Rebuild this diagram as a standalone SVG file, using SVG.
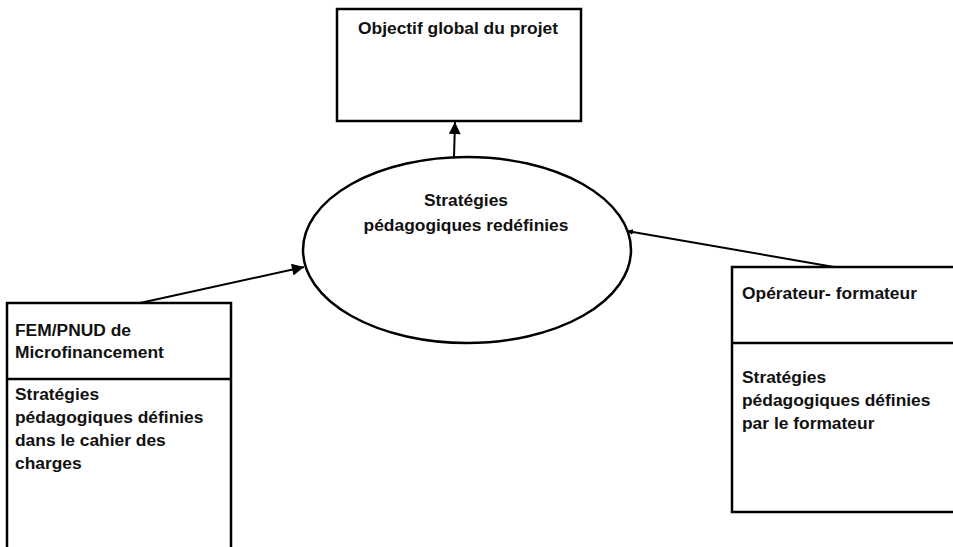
<svg xmlns="http://www.w3.org/2000/svg" width="953" height="547" viewBox="0 0 953 547">
<style>
.box{fill:#fff;stroke:#000;stroke-width:2.5}
.t{font-family:"Liberation Sans",Arial,sans-serif;font-weight:bold;font-size:17.4px;fill:#111}
.c{stroke:#000;stroke-width:2;fill:none}
</style>
<defs>
<marker id="ah" viewBox="0 0 10 10" refX="10" refY="5" markerWidth="6" markerHeight="6" markerUnits="userSpaceOnUse" orient="auto">
<path d="M0,0 L10,5 L0,10 z" fill="#000"/>
</marker>
<marker id="ahl" viewBox="0 0 10 10" refX="10" refY="5" markerWidth="14" markerHeight="12" markerUnits="userSpaceOnUse" orient="auto">
<path d="M0,0 L10,5 L0,10 z" fill="#000"/>
</marker>
</defs>
<rect width="953" height="547" fill="#fff"/>
<g id="objectif">
<rect class="box" x="337" y="9" width="244" height="112"/>
<text class="t" x="358" y="34">Objectif global du projet</text>
</g>
<g id="strategies">
<ellipse class="box" cx="467" cy="250" rx="164" ry="93"/>
<text class="t" x="466" y="206" text-anchor="middle">Stratégies</text>
<text class="t" x="466" y="231" text-anchor="middle">pédagogiques redéfinies</text>
</g>
<g id="fem">
<rect class="box" x="7" y="303" width="224" height="260"/>
<line class="box" x1="7" y1="379" x2="231" y2="379"/>
<text class="t" x="15" y="336">FEM/PNUD de</text>
<text class="t" x="15" y="358">Microfinancement</text>
<text class="t" x="15" y="400">Stratégies</text>
<text class="t" x="15" y="423">pédagogiques définies</text>
<text class="t" x="15" y="446">dans le cahier des</text>
<text class="t" x="15" y="469">charges</text>
</g>
<g id="operateur">
<rect class="box" x="732" y="267" width="240" height="245"/>
<line class="box" x1="732" y1="343" x2="972" y2="343"/>
<text class="t" x="742" y="299">Opérateur- formateur</text>
<text class="t" x="742" y="383">Stratégies</text>
<text class="t" x="742" y="406">pédagogiques définies</text>
<text class="t" x="742" y="429">par le formateur</text>
</g>
<g id="connectors">
<line class="c" x1="454" y1="157" x2="455" y2="122" marker-end="url(#ahl)"/>
<line class="c" x1="140" y1="303" x2="304" y2="267" marker-end="url(#ahl)"/>
<line class="c" x1="834" y1="267" x2="627" y2="231" marker-end="url(#ah)"/>
</g>
</svg>
